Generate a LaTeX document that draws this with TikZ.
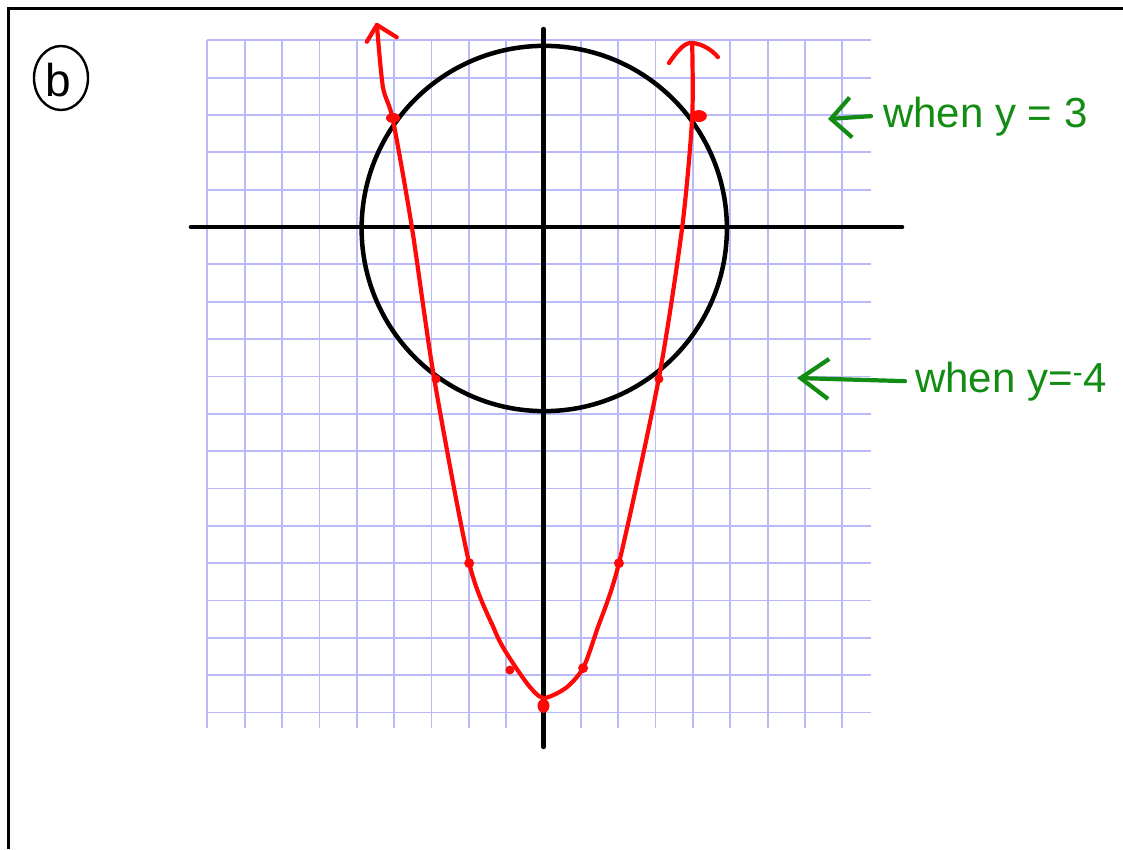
\documentclass[tikz,border=0pt]{standalone}
\usepackage{fontspec}
\setmainfont{Liberation Sans}
\usetikzlibrary{arrows.meta}
\definecolor{gridblue}{RGB}{186,186,248}
\definecolor{penred}{RGB}{255,8,8}
\definecolor{pengreen}{RGB}{18,140,18}
\begin{document}
\begin{tikzpicture}[x=1pt,y=-1pt,
  frame/.style={line width=3pt, black, line join=miter},
  gridline/.style={gridblue, line width=1.8pt},
  axisline/.style={black, line width=4.5pt, line cap=round},
  curve/.style={penred, line width=4.2pt, line cap=round, line join=round},
  dotmark/.style={fill=penred},
  greenpen/.style={pengreen, line width=4.2pt, line cap=round, line join=round},
  note/.style={text=pengreen, font=\fontsize{42}{48}\selectfont, inner sep=0pt, anchor=base west},
]
\useasboundingbox (0,0) rectangle (1123,849);
\fill[white] (0,0) rectangle (1123,849);
\draw[frame] (8.5,849) -- (8.5,8.5) -- (1123,8.5);

% circled label
\node[font=\fontsize{46}{50}\selectfont, inner sep=0pt] (lbl) at (58,80) {b};
\draw[line width=2.4pt] (61,78) ellipse [x radius=27, y radius=32];

\begin{scope}[shift={(543.5,227)}, x=37.35pt, y=37.35pt]
  % grid
  \foreach \i in {-9,...,8} \draw[gridline] (\i,5) -- (\i,-13.4);
  \foreach \j in {-13,...,5} \draw[gridline] (-9,\j) -- (8.78,\j);
  % axes
  \coordinate (xl) at (-9.44,0);
  \coordinate (xr) at (9.6,0);
  \coordinate (yt) at (0,5.3);
  \coordinate (yb) at (0,-13.92);
  \draw[axisline] (xl) -- (xr);
  \draw[axisline] (yb) -- (yt);
  % circle
  \coordinate (o) at (0.02,-0.04);
  \draw[black, line width=4.5pt] (o) circle[radius=4.89];
  % parabola (hand traced)
  \coordinate (ltip) at (-4.46,5.41);
  \coordinate (rtip) at (3.98,4.93);
  \draw[curve] plot[smooth, tension=0.45] coordinates {
    (-4.46,5.41) (-4.30,3.75) (-4.03,2.86) (-3.52,-0.03) (-2.93,-4.04)
    (-1.99,-9.0) (-1.31,-10.79) (-0.99,-11.41) (-0.41,-12.26) (0,-12.61)
    (0.60,-12.34) (1.06,-11.81) (1.43,-10.79) (2.02,-9.0) (3.09,-4.04)
    (3.71,-0.03) (3.98,2.92) (3.98,4.93)};
  % hand drawn arrow heads
  \draw[curve] (-4.73,4.96) -- (ltip) -- (-3.93,5.08);
  \draw[curve] (3.36,4.39) .. controls (3.6,4.75) and (3.8,4.95) .. (rtip) .. controls (4.25,4.9) and (4.5,4.75) .. (4.67,4.55);
  % plotted points
  \fill[dotmark] (-4.03,2.92) ellipse [x radius=7pt, y radius=5pt];
  \fill[dotmark] (4.16,2.97) ellipse [x radius=8pt, y radius=6pt];
  \fill[dotmark] (-2.88,-4.07) circle[radius=4.5pt];
  \fill[dotmark] (3.09,-4.07) circle[radius=4.5pt];
  \fill[dotmark] (-1.99,-9.0) circle[radius=5pt];
  \fill[dotmark] (2.02,-9.0) circle[radius=5pt];
  \fill[dotmark] (-0.90,-11.86) circle[radius=4.5pt];
  \fill[dotmark] (1.06,-11.81) circle[radius=5pt];
  \fill[dotmark] (0,-12.82) ellipse [x radius=6pt, y radius=7pt];
\end{scope}

% green annotations
\node[note] (n1) at (883,127) {when y = 3};
\coordinate (t1) at (828,119);
\draw[greenpen, -{Straight Barb[length=20pt, width=40pt]}] ([xshift=-12pt]n1.west) -- (t1);

\node[note] (n2) at (915,392) {when y=\textsuperscript{-}4};
\coordinate (t2) at (797,378);
\draw[greenpen, -{Straight Barb[length=28pt, width=40pt]}] ([xshift=-10pt]n2.west) -- (t2);
\end{tikzpicture}
\end{document}
